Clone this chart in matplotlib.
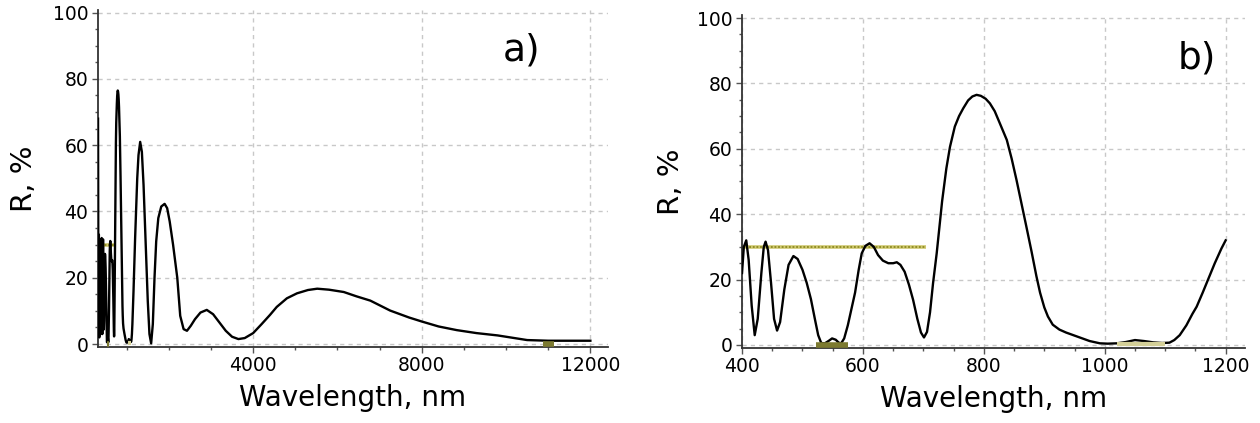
import numpy as np
import matplotlib
matplotlib.use("Agg")
import matplotlib.pyplot as plt
from matplotlib.ticker import MultipleLocator

# reflectance spectrum, visible part (panel b)
wl_vis = [400, 403, 407, 411, 416, 421, 426, 432, 436, 439, 443, 448, 453, 458, 463,
          470, 477, 485, 492, 500, 507, 514, 521, 526, 531, 537, 543, 549, 555, 560,
          564, 569, 575, 581, 587, 593, 598, 604, 611, 618, 625, 633, 642, 650, 656,
          662, 669, 676, 683, 690, 696, 701, 706, 711, 716, 722, 731, 738, 744, 752,
          759, 766, 774, 781, 788, 795, 803, 810, 818, 826, 838, 846, 854, 862, 870,
          879, 887, 893, 900, 906, 914, 925, 936, 948, 960, 975, 992, 1005, 1020, 1035,
          1050, 1065, 1080, 1095, 1107, 1115, 1124, 1135, 1145, 1152, 1162, 1172, 1182,
          1193, 1200]
r_vis = [22, 30, 32, 26, 12, 3, 8, 22, 30, 31.6, 29, 19, 8, 4.4, 7,
         17, 24.5, 27.2, 26.3, 23, 19, 14, 7.5, 3, 0.6, 0.5, 1.2, 2.0, 1.6, 0.7,
         0.5, 2, 6, 11, 16, 23, 28, 30.3, 31.1, 30, 27.5, 25.8, 25, 25, 25.3,
         24.5, 22.4, 18.5, 13.8, 8, 3.8, 2.3, 4, 10, 18.9, 28, 44, 54, 60.6, 66.8,
         70, 72.4, 74.8, 76, 76.5, 76.2, 75.3, 73.9, 71.5, 68, 62.7, 57, 50.5, 43.5, 36.5,
         28.5, 21, 16, 11.5, 8.7, 6.2, 4.7, 3.8, 3.0, 2.2, 1.2, 0.5, 0.4, 0.5, 0.9,
         1.5, 1.2, 0.8, 0.6, 0.7, 1.5, 3, 6, 9.5, 11.7, 16, 20.5, 25,
         29.5, 32]

# short-wave part below 400 nm (panel a only)
wl_uv = [320, 325, 330, 335, 340, 345, 350, 355, 360, 365, 370, 375, 380, 385, 390, 395]
r_uv = [68, 35, 4, 28, 33, 6, 2, 25, 29, 10, 3, 18, 27, 14, 5, 14]

# infrared part above 1200 nm (panel a only)
wl_ir = [1225, 1250, 1280, 1320, 1360, 1400, 1450, 1500, 1540, 1580, 1620, 1660, 1700,
         1750, 1820, 1900, 1960, 2020, 2100, 2200, 2270, 2350, 2430, 2520, 2620, 2750,
         2900, 3050, 3200, 3350, 3500, 3650, 3800, 4000, 4200, 4400, 4560, 4800, 5040,
         5300, 5520, 5800, 6150, 6450, 6780, 7250, 7700, 8000, 8400, 8830, 9300, 9800,
         10200, 10500, 11000, 11500, 12000]
r_ir = [41, 50, 57, 61, 58, 48, 30.7, 13, 3, 0.2, 6, 20, 31,
        38, 41.5, 42.3, 41, 37, 30, 20, 8.5, 4.5, 4, 5.5, 7.5, 9.5,
        10.3, 9, 6.5, 4, 2.2, 1.5, 1.8, 3.3, 6, 8.8, 11.2, 13.8, 15.3,
        16.3, 16.7, 16.4, 15.7, 14.4, 13.1, 10.1, 8, 6.8, 5.3, 4.2, 3.3, 2.6,
        1.8, 1.2, 1.0, 1.0, 1.0]

# design targets
tgt_high_wl = [400, 705]
tgt_high_r = [30, 30]
tgt_low1_wl = [522, 575]
tgt_low2_wl = [1020, 1100]
tgt_low3_wl = [10880, 11130]

wl_all = wl_uv + wl_vis + wl_ir
r_all = r_uv + r_vis + r_ir

fig = plt.figure(figsize=(12.6, 4.23), dpi=100)
ax1 = fig.add_axes([0.0778, 0.1804, 0.4048, 0.796])
ax2 = fig.add_axes([0.5889, 0.1783, 0.3992, 0.7853])


def draw_targets(ax):
    ax.plot(tgt_high_wl, tgt_high_r, color="#cfc870", lw=2.6, solid_capstyle="butt", zorder=2)
    ax.plot(tgt_high_wl, tgt_high_r, color="#8c8a20", lw=1.3, ls=(0, (1, 1)), zorder=2)
    ax.plot(tgt_low1_wl, [0, 0], color="#7c7a30", lw=4, solid_capstyle="butt", zorder=4)
    ax.plot(tgt_low2_wl, [0.3, 0.3], color="#d4d098", lw=3, solid_capstyle="butt", zorder=4)
    ax.plot(tgt_low3_wl, [0, 0], color="#7c7a30", lw=4, solid_capstyle="butt", zorder=4)


def style(ax):
    for s in ["top", "right"]:
        ax.spines[s].set_visible(False)
    for s in ["left", "bottom"]:
        ax.spines[s].set_color("#333333")
        ax.spines[s].set_linewidth(1.3)
    ax.set_ylim(-0.8, 100.8)
    ax.yaxis.set_major_locator(MultipleLocator(20))
    ax.yaxis.set_minor_locator(MultipleLocator(5))
    ax.grid(True, which="major", color="#c8c8c8", ls=(0, (3, 3)), lw=1)
    ax.set_axisbelow(True)
    ax.tick_params(which="major", length=4, width=1, color="#555555",
                   labelsize=13.5, pad=3)
    ax.tick_params(which="minor", length=2.5, width=1, color="#555555")
    ax.set_xlabel("Wavelength, nm", fontsize=20, labelpad=6)
    ax.set_ylabel("R, %", fontsize=21)


# panel a
draw_targets(ax1)
ax1.plot(wl_all, r_all, color="black", lw=1.7, zorder=3)
ax1.set_xlim(320, 12420)
ax1.xaxis.set_major_locator(MultipleLocator(4000))
ax1.xaxis.set_minor_locator(MultipleLocator(1000))
style(ax1)
ax1.yaxis.set_label_coords(-0.118, 0.5)
ax1.text(0.831, 0.88, "a)", transform=ax1.transAxes, fontsize=27,
         ha="center", va="center")

# panel b
draw_targets(ax2)
ax2.plot(wl_vis, r_vis, color="black", lw=1.7, zorder=3)
ax2.set_xlim(400, 1232)
ax2.xaxis.set_major_locator(MultipleLocator(200))
ax2.xaxis.set_minor_locator(MultipleLocator(50))
style(ax2)
ax2.yaxis.set_label_coords(-0.113, 0.5)
ax2.text(0.905, 0.87, "b)", transform=ax2.transAxes, fontsize=27,
         ha="center", va="center")

fig.savefig("out.png", dpi=100)
